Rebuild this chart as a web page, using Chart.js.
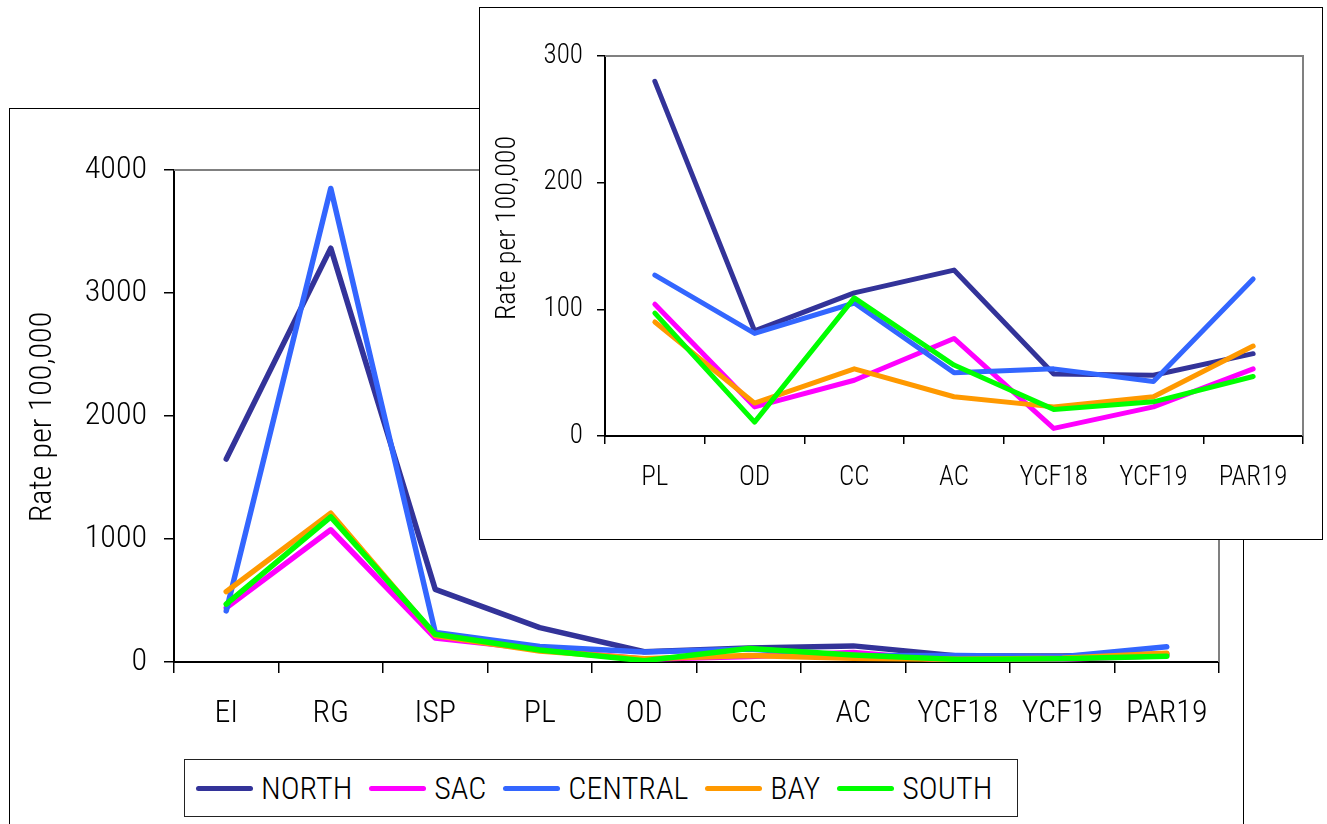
<!DOCTYPE html>
<html lang="en">
<head>
  <meta charset="UTF-8">
  <title>Rate per 100,000 by region</title>
  <script src="https://cdn.jsdelivr.net/npm/chart.js"></script>
  <style>
    html, body { margin: 0; padding: 0; background: #fff; overflow: hidden; width: 1327px; height: 824px; }
    body { position: relative; font-family: "Roboto Condensed", "Liberation Sans Narrow", sans-serif; font-weight: 300; }
    #main-box { position: absolute; left: 9px; top: 108px; width: 1233px; height: 760px; border: 1px solid #000; background: #fff; }
    #inset-box { position: absolute; left: 479px; top: 7px; width: 842px; height: 531px; border: 1px solid #000; background: #fff; z-index: 2; }
    canvas { display: block; }
    #legend { position: absolute; left: 184px; top: 759px; width: 834px; height: 58px; border: 1px solid #222; background: #fff;
              display: flex; align-items: center; padding-left: 11px; box-sizing: border-box; z-index: 1; }
    .item { display: flex; align-items: center; margin-right: 17px; font-size: 32px; color: #000; }
    .swatch { width: 57px; height: 5px; border-radius: 3px; margin-right: 8px; }
  </style>
</head>
<body>
  <div id="main-box"><canvas id="mainChart" width="1233" height="715"></canvas></div>
  <div id="legend"></div>
  <div id="inset-box"><canvas id="insetChart" width="842" height="531"></canvas></div>

  <script>
    // categories
    const categories = ['EI', 'RG', 'ISP', 'PL', 'OD', 'CC', 'AC', 'YCF18', 'YCF19', 'PAR19'];
    const insetFrom = 3; // inset zooms in on PL .. PAR19

    // series values (rate per 100,000)
    const north   = [1650, 3365, 590, 280, 83, 113, 131, 49, 48, 65];
    const sac     = [440, 1075, 195, 104, 23, 44, 77, 6, 23, 53];
    const central = [415, 3850, 240, 127, 81, 105, 50, 53, 43, 124];
    const bay     = [572, 1210, 215, 90, 26, 53, 31, 23, 31, 71];
    const south   = [470, 1180, 225, 97, 11, 109, 56, 21, 27, 47];

    const seriesNames = ['NORTH', 'SAC', 'CENTRAL', 'BAY', 'SOUTH'];
    const seriesColors = ['#333399', '#FF00FF', '#3366FF', '#FF9900', '#00FF00'];
    const seriesValues = [north, sac, central, bay, south];

    // y ticks
    const mainTicks = [0, 1000, 2000, 3000, 4000];
    const insetTicks = [0, 100, 200, 300];

    const FONT = '"Roboto Condensed", "Liberation Sans Narrow", sans-serif';
    Chart.defaults.font.family = FONT;
    Chart.defaults.font.weight = 300;
    Chart.defaults.color = '#000';

    function makeDatasets(start, width) {
      return seriesNames.map((name, i) => ({
        label: name,
        data: seriesValues[i].slice(start),
        borderColor: seriesColors[i],
        backgroundColor: seriesColors[i],
        borderWidth: width,
        borderCapStyle: 'round',
        borderJoinStyle: 'round',
        pointRadius: 0,
        tension: 0,
        order: seriesNames.length - i
      }));
    }

    // grey frame on top/right of the plot + rotated axis title
    const framePlugin = {
      id: 'frame',
      beforeDatasetsDraw(chart) {
        const { ctx, chartArea: a } = chart;
        ctx.save();
        ctx.strokeStyle = '#808080';
        ctx.lineWidth = 2;
        ctx.beginPath();
        ctx.moveTo(a.left, a.top);
        ctx.lineTo(a.right, a.top);
        ctx.lineTo(a.right, a.bottom);
        ctx.stroke();
        ctx.restore();
      },
      afterDraw(chart, args, opts) {
        if (!opts.text) return;
        const ctx = chart.ctx;
        ctx.save();
        ctx.translate(opts.x, opts.y);
        ctx.rotate(-Math.PI / 2);
        ctx.font = '300 ' + opts.size + 'px ' + FONT;
        ctx.fillStyle = '#000';
        ctx.textAlign = 'center';
        ctx.textBaseline = 'middle';
        ctx.fillText(opts.text, 0, 0);
        ctx.restore();
      }
    };

    function makeChart(id, cfg) {
      return new Chart(document.getElementById(id), {
        type: 'line',
        data: { labels: categories.slice(cfg.start), datasets: makeDatasets(cfg.start, cfg.lineWidth) },
        plugins: [framePlugin],
        options: {
          responsive: false,
          animation: false,
          layout: { padding: cfg.padding },
          plugins: {
            legend: { display: false },
            tooltip: { enabled: false },
            frame: cfg.title
          },
          scales: {
            x: {
              offset: true,
              grid: { offset: true, drawOnChartArea: false, color: '#000', lineWidth: 1.5, tickLength: cfg.xTick },
              border: { color: '#000', width: 2 },
              ticks: { autoSkip: false, maxRotation: 0, padding: cfg.xPad, font: { size: cfg.fontSize } },
              afterFit: s => { s.height = cfg.xHeight; }
            },
            y: {
              min: 0,
              max: cfg.yTicks[cfg.yTicks.length - 1],
              afterBuildTicks: s => { s.ticks = cfg.yTicks.map(v => ({ value: v })); },
              grid: { drawOnChartArea: false, color: '#000', lineWidth: 1.5, tickLength: cfg.yTick },
              border: { color: '#000', width: 2 },
              ticks: { padding: cfg.yPad, font: { size: cfg.fontSize }, callback: v => String(v) },
              afterFit: s => { s.width = cfg.yWidth; }
            }
          }
        }
      });
    }

    makeChart('mainChart', {
      start: 0,
      lineWidth: 5.5,
      padding: { left: 0, right: 24, top: 61, bottom: 82 },
      yTicks: mainTicks,
      fontSize: 32,
      xTick: 11, xPad: 22, xHeight: 80,
      yTick: 10, yPad: 17, yWidth: 164,
      title: { text: 'Rate per 100,000', x: 33, y: 308, size: 32 }
    });

    makeChart('insetChart', {
      start: insetFrom,
      lineWidth: 5,
      padding: { left: 0, right: 19, top: 48, bottom: 33 },
      yTicks: insetTicks,
      fontSize: 27,
      xTick: 8, xPad: 18, xHeight: 70,
      yTick: 8, yPad: 14, yWidth: 125,
      title: { text: 'Rate per 100,000', x: 28, y: 220, size: 28 }
    });

    // legend for the main chart, built from the series names/colours
    const legend = document.getElementById('legend');
    seriesNames.forEach((name, i) => {
      const item = document.createElement('div');
      item.className = 'item';
      item.innerHTML = `<span class="swatch" style="background:${seriesColors[i]}"></span><span>${name}</span>`;
      legend.appendChild(item);
    });
  </script>
</body>
</html>
